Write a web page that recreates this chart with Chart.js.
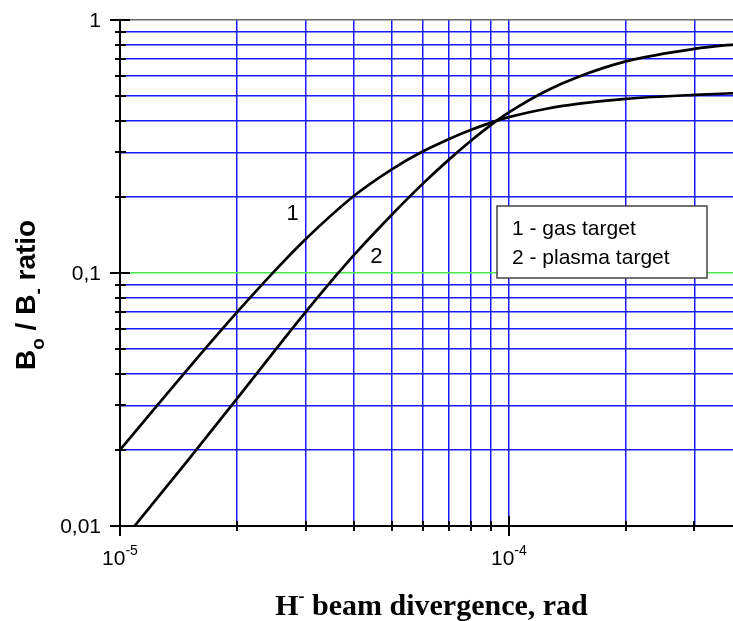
<!DOCTYPE html>
<html>
<head>
<meta charset="utf-8">
<script src="https://cdn.jsdelivr.net/npm/chart.js@4/dist/chart.umd.min.js"></script>
<style>
  html, body { margin: 0; padding: 0; background: #fff; overflow: hidden; }
  #wrap { width: 760px; height: 621px; }
</style>
</head>
<body>
<div id="wrap"><canvas id="myChart" width="760" height="621"></canvas></div>
<script>
// beam divergence, rad
const gasX = [1e-5, 1.5e-5, 2e-5, 2.5e-5, 3e-5, 4e-5, 5e-5, 6e-5, 7e-5, 8e-5, 9e-5, 1e-4, 1.25e-4, 1.5e-4, 2e-4, 3e-4, 4e-4];
const gasY = [0.020, 0.042, 0.070, 0.102, 0.136, 0.202, 0.257, 0.302, 0.338, 0.368, 0.393, 0.413, 0.446, 0.466, 0.488, 0.506, 0.515];

const plasmaX = [1.09e-5, 1.5e-5, 2e-5, 2.5e-5, 3e-5, 3.6e-5, 4e-5, 5e-5, 6e-5, 7e-5, 8e-5, 9e-5, 1e-4, 1.25e-4, 1.5e-4, 2e-4, 3e-4, 4e-4];
const plasmaY = [0.010, 0.0183, 0.0319, 0.0493, 0.0700, 0.098, 0.118, 0.170, 0.225, 0.280, 0.334, 0.385, 0.431, 0.525, 0.594, 0.686, 0.769, 0.807];

const X_TICKS = [1e-5, 2e-5, 3e-5, 4e-5, 5e-5, 6e-5, 7e-5, 8e-5, 9e-5, 1e-4, 2e-4, 3e-4, 4e-4];
const Y_TICKS = [0.01, 0.02, 0.03, 0.04, 0.05, 0.06, 0.07, 0.08, 0.09,
                 0.1, 0.2, 0.3, 0.4, 0.5, 0.6, 0.7, 0.8, 0.9, 1];
const X_MAJOR = [{value: 1e-5, exp: "-5"}, {value: 1e-4, exp: "-4"}];
const Y_MAJOR = [{value: 0.01, text: "0,01"}, {value: 0.1, text: "0,1"}, {value: 1, text: "1"}];

const LEGEND_LINES = ["1 - gas target", "2 - plasma target"];
// curve numbers, placed in data units
const CURVE_LABELS = [{text: "1", x: 2.78e-5, y: 0.171}, {text: "2", x: 4.56e-5, y: 0.116}];

const SANS = '"Liberation Sans", Arial, sans-serif';
const SERIF = '"Liberation Serif", "Times New Roman", serif';

function toPoints(xs, ys) {
    let pts = [];
    for (let i = 0; i < xs.length; i++) pts.push({x: xs[i], y: ys[i]});
    return pts;
}

function gridColour(ctx) {
    let v = ctx.tick && ctx.tick.value;
    if (Math.abs(v - 0.1) < 1e-9) return "#4be84b";
    if (Math.abs(v - 1) < 1e-9) return "#666666";
    return "#1a1aff";
}

const decorations = {
    id: "decorations",
    afterDraw(chart) {
        const ctx = chart.ctx;
        const a = chart.chartArea;
        const xs = chart.scales.x, ys = chart.scales.y;
        ctx.save();

        // axis lines
        ctx.strokeStyle = "#000";
        ctx.lineWidth = 2;
        ctx.beginPath();
        ctx.moveTo(a.left, a.top);
        ctx.lineTo(a.left, a.bottom);
        ctx.lineTo(a.right, a.bottom);
        ctx.stroke();

        // y ticks crossing the axis
        for (let v of Y_TICKS) {
            let y = Math.round(ys.getPixelForValue(v));
            let major = Y_MAJOR.some(m => Math.abs(m.value - v) < 1e-9);
            ctx.beginPath();
            ctx.moveTo(a.left - (major ? 10 : 5), y);
            ctx.lineTo(a.left + (major ? 10 : 6), y);
            ctx.stroke();
        }
        // x ticks
        for (let v of X_TICKS) {
            let x = Math.round(xs.getPixelForValue(v));
            let major = X_MAJOR.some(m => Math.abs(m.value - v) < 1e-12);
            ctx.beginPath();
            ctx.moveTo(x, a.bottom - (major ? 10 : 5));
            ctx.lineTo(x, a.bottom + (major ? 10 : 5));
            ctx.stroke();
        }

        ctx.fillStyle = "#000";
        // y tick labels
        ctx.font = "21px " + SANS;
        ctx.textAlign = "right";
        ctx.textBaseline = "middle";
        for (let m of Y_MAJOR) {
            ctx.fillText(m.text, a.left - 19, ys.getPixelForValue(m.value) + 1);
        }
        // x tick labels with exponent
        ctx.textBaseline = "alphabetic";
        ctx.textAlign = "left";
        for (let m of X_MAJOR) {
            ctx.font = "21px " + SANS;
            let wBase = ctx.measureText("10").width;
            ctx.font = "14px " + SANS;
            let wExp = ctx.measureText(m.exp).width;
            let x0 = xs.getPixelForValue(m.value) - (wBase + wExp) / 2;
            let base = a.bottom + 39;
            ctx.font = "21px " + SANS;
            ctx.fillText("10", x0, base);
            ctx.font = "14px " + SANS;
            ctx.fillText(m.exp, x0 + wBase, base - 10);
        }

        // x title
        ctx.font = "bold 30px " + SERIF;
        let p1 = "H", p3 = " beam divergence, rad";
        let w1 = ctx.measureText(p1).width, w3 = ctx.measureText(p3).width;
        ctx.font = "bold 18px " + SERIF;
        let w2 = ctx.measureText("-").width;
        let tx = (a.left + a.right) / 2 - (w1 + w2 + w3) / 2;
        let tb = a.bottom + 89;
        ctx.font = "bold 30px " + SERIF;
        ctx.fillText(p1, tx, tb);
        ctx.font = "bold 18px " + SERIF;
        ctx.fillText("-", tx + w1, tb - 13);
        ctx.font = "bold 30px " + SERIF;
        ctx.fillText(p3, tx + w1 + w2, tb);

        // y title, rotated
        ctx.save();
        ctx.translate(a.left - 85, ys.getPixelForValue(0.01) - 156);
        ctx.rotate(-Math.PI / 2);
        let parts = [
            {t: "B", f: "bold 28px " + SANS, dy: 0},
            {t: "o", f: "bold 19px " + SANS, dy: 9},
            {t: " / B", f: "bold 28px " + SANS, dy: 0},
            {t: "-", f: "bold 19px " + SANS, dy: 9},
            {t: " ratio", f: "bold 28px " + SANS, dy: 0},
        ];
        let cx = 0;
        for (let p of parts) {
            ctx.font = p.f;
            ctx.fillText(p.t, cx, p.dy);
            cx += ctx.measureText(p.t).width;
        }
        ctx.restore();

        // curve numbers
        ctx.font = "22px " + SANS;
        ctx.textAlign = "center";
        ctx.textBaseline = "middle";
        for (let c of CURVE_LABELS) {
            ctx.fillText(c.text, xs.getPixelForValue(c.x), ys.getPixelForValue(c.y));
        }

        // legend box
        let bx = a.left + 377, by = a.top + 186, bw = 210, bh = 72;
        ctx.fillStyle = "#fff";
        ctx.fillRect(bx, by, bw, bh);
        ctx.strokeStyle = "#444";
        ctx.lineWidth = 1.5;
        ctx.strokeRect(bx, by, bw, bh);
        ctx.fillStyle = "#000";
        ctx.font = "21px " + SANS;
        ctx.textAlign = "left";
        ctx.textBaseline = "alphabetic";
        LEGEND_LINES.forEach((t, i) => ctx.fillText(t, bx + 15, by + 29 + i * 29));

        ctx.restore();
    }
};

const chart_obj = new Chart(document.getElementById("myChart").getContext("2d"), {
    type: "line",
    data: {
        datasets: [
            {label: "1 - gas target", data: toPoints(gasX, gasY)},
            {label: "2 - plasma target", data: toPoints(plasmaX, plasmaY)},
        ].map(d => Object.assign(d, {
            borderColor: "#000",
            borderWidth: 2.7,
            pointRadius: 0,
            fill: false,
            cubicInterpolationMode: "monotone",
        })),
    },
    options: {
        responsive: false,
        animation: false,
        layout: {padding: {left: 120, right: 17, top: 20, bottom: 95}},
        plugins: {legend: {display: false}, tooltip: {enabled: false}},
        scales: {
            x: {
                type: "logarithmic",
                min: 1e-5,
                max: 4e-4,
                afterBuildTicks: s => { s.ticks = X_TICKS.map(v => ({value: v})); },
                ticks: {display: false},
                border: {display: false},
                grid: {color: "#1a1aff", lineWidth: 1.5, drawTicks: false},
            },
            y: {
                type: "logarithmic",
                min: 0.01,
                max: 1,
                afterBuildTicks: s => { s.ticks = Y_TICKS.map(v => ({value: v})); },
                ticks: {display: false},
                border: {display: false},
                grid: {color: gridColour, lineWidth: 1.5, drawTicks: false},
            },
        },
    },
    plugins: [decorations],
});
</script>
</body>
</html>
